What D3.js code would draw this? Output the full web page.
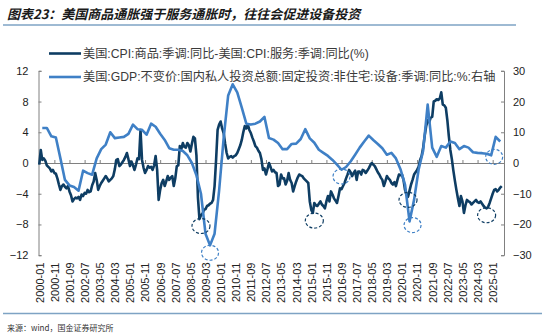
<!DOCTYPE html>
<html><head><meta charset="utf-8">
<script src="https://cdn.jsdelivr.net/npm/d3@7"></script>
<style>body{margin:0;background:#fff;} svg{display:block;}</style>
</head><body><svg id="c" width="550" height="336"></svg>
<script>
const title = "图表23：美国商品通胀强于服务通胀时，往往会促进设备投资";
const source = "来源：wind，国金证券研究所";
const seriesNames = [
  "美国:CPI:商品:季调:同比-美国:CPI:服务:季调:同比(%)",
  "美国:GDP:不变价:国内私人投资总额:固定投资:非住宅:设备:季调:同比:%:右轴"
];
const startYear = 2000;
// monthly, from 2000-01
const cpiGap = [
  -0.2, 1.7, 0.4, 0.6, 0.3, -0.3, -0.5, -0.7, -1.1, -0.9, -1.3, -1.4,
  -2.0, -2.8, -3.5, -3.0, -2.8, -3.1, -3.3, -3.0, -3.7, -4.2, -5.0, -4.7,
  -4.5, -4.6, -4.4, -4.8, -4.1, -4.3, -3.9, -4.0, -3.5, -3.8, -3.7, -2.9,
  -2.4, -1.3, -2.2, -3.5, -3.0, -2.6, -2.3, -2.0, -1.7, -2.0, -2.4, -2.2,
  -2.0, -1.7, -0.8, 0.4, 0.5, -0.4, -0.2, 0.1, 0.4, 0.8, 1.3, 0.5,
  -0.4, 0.2, -0.3, -0.9, -0.2, 0.6, 0.5, 4.3, 0.4, -0.6, -1.3, -0.9,
  -0.4, -0.6, -0.5, -0.9, -0.3, 0.9, -0.9, -4.8, -3.5, -2.6, -2.2, -3.0,
  -2.4, -1.7, -2.2, -1.9, -1.7, -3.0, -2.0, -0.4, -0.3, 2.2, 1.8, 2.6,
  2.1, 2.0, 2.6, 2.3, 1.5, 2.5, 3.4, 3.2, 1.0, -4.5, -7.3, -6.8,
  -6.6, -6.1, -6.0, -5.6, -5.5, -5.3, -5.2, -4.8, -3.0, 0.4, 4.3, 5.0,
  5.4, 4.5, 3.9, 2.5, 1.3, 0.6, 0.8, 0.9, 0.7, 0.9, 1.0, 1.3,
  1.8, 2.3, 3.0, 4.0, 4.8, 4.5, 5.0, 4.3, 3.9, 3.3, 2.8, 2.2,
  2.0, 1.6, 1.3, 0.5, -0.9, -0.7, -1.5, -0.8, 0.0, -0.5, -1.1, -0.9,
  -1.2, -1.3, -3.0, -2.8, -1.5, -2.0, -2.0, -2.8, -2.3, -1.3, -2.2, -2.6,
  -3.7, -3.0, -2.4, -1.9, -1.5, -1.6, -1.7, -2.0, -2.2, -2.4, -2.6, -5.0,
  -6.1, -6.5, -5.2, -5.5, -5.6, -5.3, -5.0, -5.4, -5.6, -5.9, -5.0, -4.3,
  -5.0, -3.7, -4.1, -4.6, -4.9, -5.2, -4.3, -3.3, -3.4, -3.0, -2.6, -2.0,
  -1.5, -0.9, -1.2, -1.7, -1.3, -1.0, -2.2, -1.1, -1.1, -1.5, -0.9, -1.0,
  -1.3, -1.0, -0.7, -0.3, 0.0, -0.2, -0.4, -0.8, -1.2, -1.5, -1.9, -2.2,
  -3.0, -2.4, -1.7, -2.0, -2.2, -2.6, -2.8, -2.5, -3.0, -2.2, -1.5, -1.6,
  -1.5, -2.2, -3.5, -4.0, -4.4, -3.6, -2.8, -2.2, -1.5, -1.2, -0.9, -0.5,
  0.4, 0.9, 2.0, 3.5, 4.8, 5.6, 5.3, 5.9, 6.0, 8.0, 8.1, 8.3,
  8.2, 8.4, 9.2, 7.6, 7.5, 7.2, 5.6, 3.5, 1.7, 0.5, -1.0, -2.3,
  -3.5, -4.6, -5.6, -4.3, -5.0, -6.5, -5.5, -4.8, -5.0, -5.1, -5.4, -5.2,
  -5.0, -4.8, -5.1, -5.2, -5.0, -5.3, -5.6, -5.8, -5.9, -5.7, -5.2, -4.6,
  -4.0, -3.5, -3.4, -3.7, -3.5, -3.2, -3.0
];
// quarterly, from 2000Q1 (right axis)
const equipYoY = [
  11.4, 11.4, 8.7, 8.3,
  1.5, -5.5, -7.3, -7.8,
  -9.0, -2.5, -3.3, -3.8,
  1.5, 4.5, 6.0, 10.0,
  8.1, 8.3, 8.5, 9.5,
  12.5, 11.0, 10.8, 9.2,
  12.8, 11.8, 9.5, 7.5,
  4.8, 4.3, 4.3, 3.9,
  2.5, 0.0, -4.0, -10.0,
  -23.0, -26.8, -23.0, -9.0,
  8.0, 22.0, 25.6, 23.0,
  18.0, 12.8, 12.5, 12.8,
  13.5, 15.0, 8.1, 7.6,
  6.5, 4.5, 4.5, 6.2,
  6.3, 7.8, 11.0, 8.0,
  6.6, 4.3, 3.3, 2.3,
  1.0, -0.5, -2.2, -1.3,
  0.5, 2.7, 5.0, 7.0,
  8.9, 7.5, 6.2, 4.8,
  2.7, 3.3, 1.5, -2.0,
  -7.0, -19.0, -12.0, -2.2,
  4.0, 19.0, 5.0, 2.0,
  5.5, 5.0, 7.0, 6.5,
  4.5, 5.5, 5.0, 3.5,
  3.3, 3.2, 3.0, 2.5,
  8.5, 7.0
];
const leftTicks = [12, 8, 4, 0, -4, -8, -12];
const rightTicks = [30, 20, 10, 0, -10, -20, -30];
const xTickLabels = ["2000-01","2000-11","2001-09","2002-07","2003-05","2004-03","2005-01","2005-11","2006-09","2007-07","2008-05","2009-03","2010-01","2010-11","2011-09","2012-07","2013-05","2014-03","2015-01","2015-11","2016-09","2017-07","2018-05","2019-03","2020-01","2020-11","2021-09","2022-07","2023-05","2024-03","2025-01"];
// dashed-circle highlights: [month, value]
const darkHighlights = [["2008-12", -8.2], ["2015-03", -7.5], ["2020-05", -4.8], ["2024-09", -6.8]];
const lightHighlights = [["2009-06", -29.2], ["2016-09", -4.4], ["2020-08", -20.2], ["2025-02", 2.0]];

const darkColor = "#0e3d63", lightColor = "#3f80c6", axisColor = "#808080";
const svg = d3.select("#c");
const monthIdx = s => { const [y, m] = s.split("-").map(Number); return (y - startYear) * 12 + (m - 1); };

const x = d3.scaleLinear().domain([-0.5, 307.5]).range([38.5, 504]);
const yL = d3.scaleLinear().domain([-12, 12]).range([255.2, 70.8]);
const yR = d3.scaleLinear().domain([-30, 30]).range([255.2, 70.8]);

// title
svg.append("text").attr("x", 7).attr("y", 18.5)
  .style("font-family", "'Noto Sans CJK SC', sans-serif").style("font-size", "13px")
  .style("font-style", "italic").style("font-weight", "bold").attr("fill", "#1a1a1a").text(title);
svg.append("line").attr("x1", 3).attr("x2", 516).attr("y1", 25).attr("y2", 25)
  .attr("stroke", "#7ea3c4").attr("stroke-width", 1.5);
svg.append("line").attr("x1", 3).attr("x2", 542).attr("y1", 313.5).attr("y2", 313.5)
  .attr("stroke", "#7ea3c4").attr("stroke-width", 1.5);
svg.append("text").attr("x", 7).attr("y", 331)
  .style("font-family", "'Noto Sans CJK SC', sans-serif").style("font-size", "8px")
  .attr("fill", "#333").text(source);

const fontAxis = "'Liberation Sans', Arial, sans-serif";
function styleAxis(g) {
  g.selectAll("path, line").attr("stroke", axisColor);
  g.selectAll("text").style("font-family", fontAxis).style("font-size", "11px").attr("fill", "#222");
}

// left axis
svg.append("g").attr("transform", `translate(${x.range()[0]},0)`)
  .call(d3.axisLeft(yL).tickValues(leftTicks).tickSize(-3).tickSizeOuter(-3).tickPadding(10).tickFormat(d3.format("d")))
  .call(styleAxis);
// right axis
svg.append("g").attr("transform", `translate(${x.range()[1]},0)`)
  .call(d3.axisRight(yR).tickValues(rightTicks).tickSize(-3).tickSizeOuter(-3).tickPadding(9).tickFormat(d3.format("d")))
  .call(styleAxis);
// x axis at zero
const xTickPos = xTickLabels.map(monthIdx);
svg.append("g").attr("transform", `translate(0,${yL(0)})`)
  .call(d3.axisBottom(x).tickValues(xTickPos).tickSize(-3).tickSizeOuter(0).tickFormat(""))
  .call(styleAxis);
// x labels at bottom
const xl = svg.append("g").attr("transform", "translate(0,262.5)")
  .call(d3.axisBottom(x).tickValues(xTickPos).tickSize(0).tickFormat((d, i) => xTickLabels[i]));
xl.select(".domain").remove();
xl.selectAll("text").attr("transform", "rotate(-90)").attr("x", 0).attr("y", 0).attr("dy", "0.35em")
  .attr("text-anchor", "end").style("font-family", fontAxis).style("font-size", "11px").attr("fill", "#222");

// series
const darkLine = d3.line().x((d, i) => x(i)).y(d => yL(d));
svg.append("path").datum(cpiGap).attr("d", darkLine).attr("fill", "none")
  .attr("stroke", darkColor).attr("stroke-width", 2.6).attr("stroke-linejoin", "round");
const lightLine = d3.line().x((d, i) => x(i * 3 + 2)).y(d => yR(d));
svg.append("path").datum(equipYoY).attr("d", lightLine).attr("fill", "none")
  .attr("stroke", lightColor).attr("stroke-width", 2.6).attr("stroke-linejoin", "round");

// highlights
svg.selectAll(".hd").data(darkHighlights).enter().append("ellipse")
  .attr("cx", d => x(monthIdx(d[0]))).attr("cy", d => yL(d[1])).attr("rx", 9).attr("ry", 7.5)
  .attr("fill", "none").attr("stroke", darkColor).attr("stroke-width", 1.2).attr("stroke-dasharray", "3,2");
svg.selectAll(".hl").data(lightHighlights).enter().append("ellipse")
  .attr("cx", d => x(monthIdx(d[0]))).attr("cy", d => yR(d[1])).attr("rx", 8.5).attr("ry", 7.5)
  .attr("fill", "none").attr("stroke", lightColor).attr("stroke-width", 1.2).attr("stroke-dasharray", "3,2");

// legend
const legY = [53.5, 77];
const legColors = [darkColor, lightColor];
seriesNames.forEach((name, i) => {
  svg.append("line").attr("x1", 49).attr("x2", 81).attr("y1", legY[i]).attr("y2", legY[i])
    .attr("stroke", legColors[i]).attr("stroke-width", 2.6);
  svg.append("text").attr("x", 83).attr("y", legY[i]).attr("dy", "0.36em")
    .style("font-family", "'Liberation Sans', 'Noto Sans CJK SC', sans-serif").style("font-size", "12.2px")
    .attr("fill", "#3a3a3a").text(name);
});
</script></body></html>
